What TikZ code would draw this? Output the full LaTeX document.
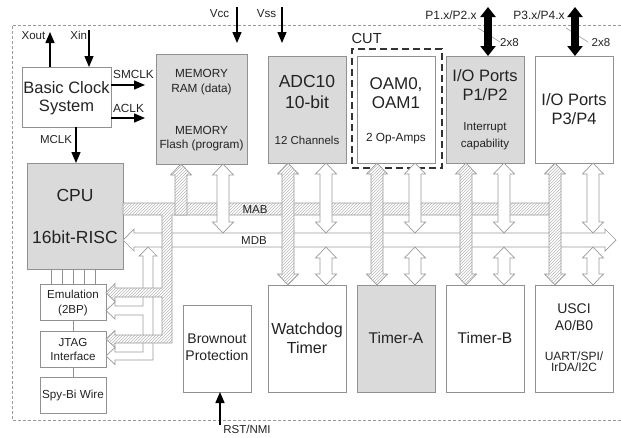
\documentclass[tikz,border=0pt]{standalone}
\usepackage{fontspec}
\setmainfont{Liberation Sans}
\usetikzlibrary{arrows.meta,patterns}
\definecolor{boxgray}{RGB}{218,218,218}
\definecolor{edge}{RGB}{145,145,145}
\definecolor{busedge}{RGB}{155,155,155}
\definecolor{hatchc}{RGB}{185,185,185}
\definecolor{txtc}{RGB}{35,35,35}
\newcommand\Bx[6]{\node[#2, minimum width={#5-#3}, minimum height={#6-#4}] (#1) at ({(#3+#5)/2},{(#4+#6)/2}) {};}
\newcommand\Lbl[5]{\node[txt, font=\fontsize{#4}{#4}\selectfont, anchor=base] (#1) at (#2,{#3+0.358*#4}) {#5};}
\newcommand\VDA[4]{\path[#4] (#1,#2) -- ({#1+10.5},{#2+11}) -- ({#1+6},{#2+11}) -- ({#1+6},{#3-11}) -- ({#1+10.5},{#3-11}) -- (#1,#3) -- ({#1-10.5},{#3-11}) -- ({#1-6},{#3-11}) -- ({#1-6},{#2+11}) -- ({#1-10.5},{#2+11}) -- cycle;}
\begin{document}
\begin{tikzpicture}[x=1pt,y=-1pt,
  box/.style={draw=edge, line width=0.8pt, fill=white, inner sep=0pt, outer sep=0pt},
  gbox/.style={box, fill=boxgray},
  cutbox/.style={draw=black!80, line width=1.6pt, dash pattern=on 7pt off 4pt, inner sep=0pt, outer sep=0pt},
  txt/.style={inner sep=0pt, outer sep=0pt, text=txtc},
  hatch/.style={draw=busedge, line width=0.7pt, preaction={fill=white}, pattern=north east lines, pattern color=hatchc},
  wbus/.style={draw=busedge, line width=0.7pt, fill=white},
  link/.style={draw=edge, line width=0.7pt},
  sig/.style={draw=black, line width=1.4pt, -{Triangle[width=9pt,length=11pt]}},
  fat/.style={draw=black, line width=8pt, {Triangle[width=15pt,length=10pt]}-{Triangle[width=15pt,length=10pt]}},
  slash/.style={draw=gray!70, line width=0.7pt}]
\useasboundingbox (0,0) rectangle (621,437);
% outer dashed frame
\draw[draw=gray!80, line width=0.6pt, dash pattern=on 3pt off 2pt] (621,25) -- (12,25) -- (12,420) -- (621,420);

% boxes
\Bx{clk}{box}{22}{67}{111}{127}
\Bx{cpu}{gbox}{27}{163}{123}{269}
\Bx{mem}{gbox}{156}{54}{247}{164}
\Bx{adc}{gbox}{268}{56}{346}{163}
\Bx{cut}{cutbox}{352}{49}{442}{168}
\Bx{oam}{box}{357}{56}{435}{163}
\Bx{pa}{gbox}{446}{56}{524}{163}
\Bx{pb}{box}{535}{56}{613}{163}
\Bx{emu}{box}{40}{284}{106}{320}
\Bx{jtag}{box}{40}{331}{106}{367}
\Bx{spy}{box}{40}{377}{106}{413}
\Bx{bor}{box}{183}{305}{251}{392}
\Bx{wdt}{box}{268}{285}{346}{392}
\Bx{ta}{gbox}{357}{285}{435}{392}
\Bx{tb}{box}{446}{285}{524}{392}
\Bx{usci}{box}{535}{285}{613}{392}

% CPU to emulation lines, emulation-JTAG-SpyBi
\foreach \d in {-22,-11,0,11,22}
  \draw[link] ([xshift=\d pt]emu.north) -- ([xshift=\d pt]emu.north |- cpu.south);
\draw[link] (emu) -- (jtag);
\draw[link] (jtag) -- (spy);

% MDB
\path[wbus] (123,240) -- (134,229) -- (134,233) -- (605,233) -- (605,229) -- (616,240) -- (605,251) -- (605,247) -- (134,247) -- (134,251) -- cycle;
% white branch to emulation / JTAG
\path[wbus] (148,247) -- (157,256) -- (153,256) -- (153,360) -- (115,360) -- (115,364.5) -- (106,356) -- (115,347.5) -- (115,352) -- (143,352) -- (143,315) -- (115,315) -- (115,319) -- (106,310.5) -- (115,302) -- (115,306) -- (143,306) -- (143,256) -- (139,256) -- cycle;
% MAB with hatched branch
\path[hatch] (123,203) -- (555,203) -- (555,215) -- (172,215) -- (172,343) -- (115,343) -- (115,347.5) -- (106,339) -- (115,330.5) -- (115,335) -- (162,335) -- (162,297) -- (115,297) -- (115,301.5) -- (106,292.5) -- (115,283.5) -- (115,288) -- (162,288) -- (162,215) -- (123,215) -- cycle;
% memory connections
\path[hatch] (181,164) -- (191.5,175) -- (187,175) -- (187,215) -- (175,215) -- (175,175) -- (170.5,175) -- cycle;
\VDA{223}{164}{233}{wbus}
% peripheral white data arrows
\foreach \x in {326,415,504,593} {
  \VDA{\x}{163}{233}{wbus}
  \VDA{\x}{247}{285}{wbus}
}
% hatched address arrows
\foreach \x in {288,377,466,555} {
  \VDA{\x}{163}{285}{hatch}
}
\Lbl{mab}{255}{209}{11.5}{MAB}
\Lbl{mdb}{254}{240.3}{11.5}{MDB}

% signals
\coordinate (xout) at (50,32);
\coordinate (xin) at (89,30);
\coordinate (smclk) at (145,85);
\coordinate (aclk) at (145,118);
\coordinate (mclk) at (76,127);
\coordinate (vcc) at (237,7);
\coordinate (vss) at (282,7);
\coordinate (rst) at (220,425);
\coordinate (p1) at (488,7);
\coordinate (p3) at (575,7);
\draw[sig] (xout |- clk.north) -- (xout);
\draw[sig] (xin) -- (xin |- clk.north);
\draw[sig] (smclk -| clk.east) -- (smclk);
\draw[sig] (aclk -| clk.east) -- (aclk);
\draw[sig] (mclk) -- (mclk |- cpu.north);
\draw[sig] (vcc) -- ++(0,36);
\draw[sig] (vss) -- ++(0,36);
\draw[sig] (rst) -- (rst |- bor.south);
\coordinate (s1a) at (478,28); \coordinate (s1b) at (500,42);
\coordinate (s3a) at (566,28); \coordinate (s3b) at (588,42);
\draw[slash] (s1a) -- (s1b);
\draw[slash] (s3a) -- (s3b);
\draw[fat] (p1) -- (p1 |- pa.north);
\draw[fat] (p3) -- (p3 |- pb.north);

% labels
\Lbl{lxout}{33.5}{35}{11.5}{Xout}
\Lbl{lxin}{78.7}{35}{11.5}{Xin}
\Lbl{lsm}{133.5}{74.5}{11.8}{SMCLK}
\Lbl{lac}{128.5}{108}{11.8}{ACLK}
\Lbl{lmc}{56}{139}{11.5}{MCLK}
\Lbl{lvcc}{219.5}{13.7}{11.6}{Vcc}
\Lbl{lvss}{266.5}{13.7}{11.6}{Vss}
\Lbl{lcut}{366.7}{38.3}{14.6}{CUT}
\Lbl{lp1}{451}{15.5}{12}{P1.x/P2.x}
\Lbl{lp3}{539}{15.5}{12}{P3.x/P4.x}
\Lbl{l28a}{509.5}{42.5}{11.5}{2x8}
\Lbl{l28b}{601}{42.5}{11.5}{2x8}
\Lbl{lrst}{247}{429}{11.5}{RST/NMI}

\Lbl{tclk1}{66.5}{87.5}{16.5}{Basic Clock}
\Lbl{tclk2}{66.5}{105.5}{16.5}{System}
\Lbl{tcpu1}{75}{195}{17.5}{CPU}
\Lbl{tcpu2}{75}{237.5}{17.5}{16bit-RISC}
\Lbl{tm1}{201.5}{73}{11.8}{MEMORY}
\Lbl{tm2}{201.5}{88.3}{11.8}{RAM (data)}
\Lbl{tm3}{201.5}{130}{11.8}{MEMORY}
\Lbl{tm4}{201.5}{144}{11.8}{Flash (program)}
\Lbl{ta1}{307}{81}{17.5}{ADC10}
\Lbl{ta2}{307}{102}{17.5}{10-bit}
\Lbl{ta3}{307}{140.3}{11.5}{12 Channels}
\Lbl{to1}{396}{83}{17}{OAM0,}
\Lbl{to2}{396}{102}{17}{OAM1}
\Lbl{to3}{396}{137}{11.8}{2 Op-Amps}
\Lbl{tp1}{485}{76}{16.5}{I/O Ports}
\Lbl{tp2}{485}{94.5}{16.5}{P1/P2}
\Lbl{tp3}{485}{126}{11.6}{Interrupt}
\Lbl{tp4}{485}{143}{11.6}{capability}
\Lbl{tq1}{574}{99.7}{16.5}{I/O Ports}
\Lbl{tq2}{574}{119}{16.5}{P3/P4}
\Lbl{te1}{73}{294.5}{11.6}{Emulation}
\Lbl{te2}{73}{309.5}{11.6}{(2BP)}
\Lbl{tj1}{73}{342}{11.6}{JTAG}
\Lbl{tj2}{73}{356}{11.6}{Interface}
\Lbl{ts1}{73}{394}{11.7}{Spy-Bi Wire}
\Lbl{tb1}{217}{338.7}{14}{Brownout}
\Lbl{tb2}{217}{355.3}{14}{Protection}
\Lbl{tw1}{307}{329}{16}{Watchdog}
\Lbl{tw2}{307}{347.5}{16}{Timer}
\Lbl{tta}{396}{337.5}{15.5}{Timer-A}
\Lbl{ttb}{485}{337.5}{15.5}{Timer-B}
\Lbl{tu1}{574}{308}{14}{USCI}
\Lbl{tu2}{574}{325}{14}{A0/B0}
\Lbl{tu3}{574}{356}{12}{UART/SPI/}
\Lbl{tu4}{574}{367.5}{12}{IrDA/I2C}
\end{tikzpicture}
\end{document}
